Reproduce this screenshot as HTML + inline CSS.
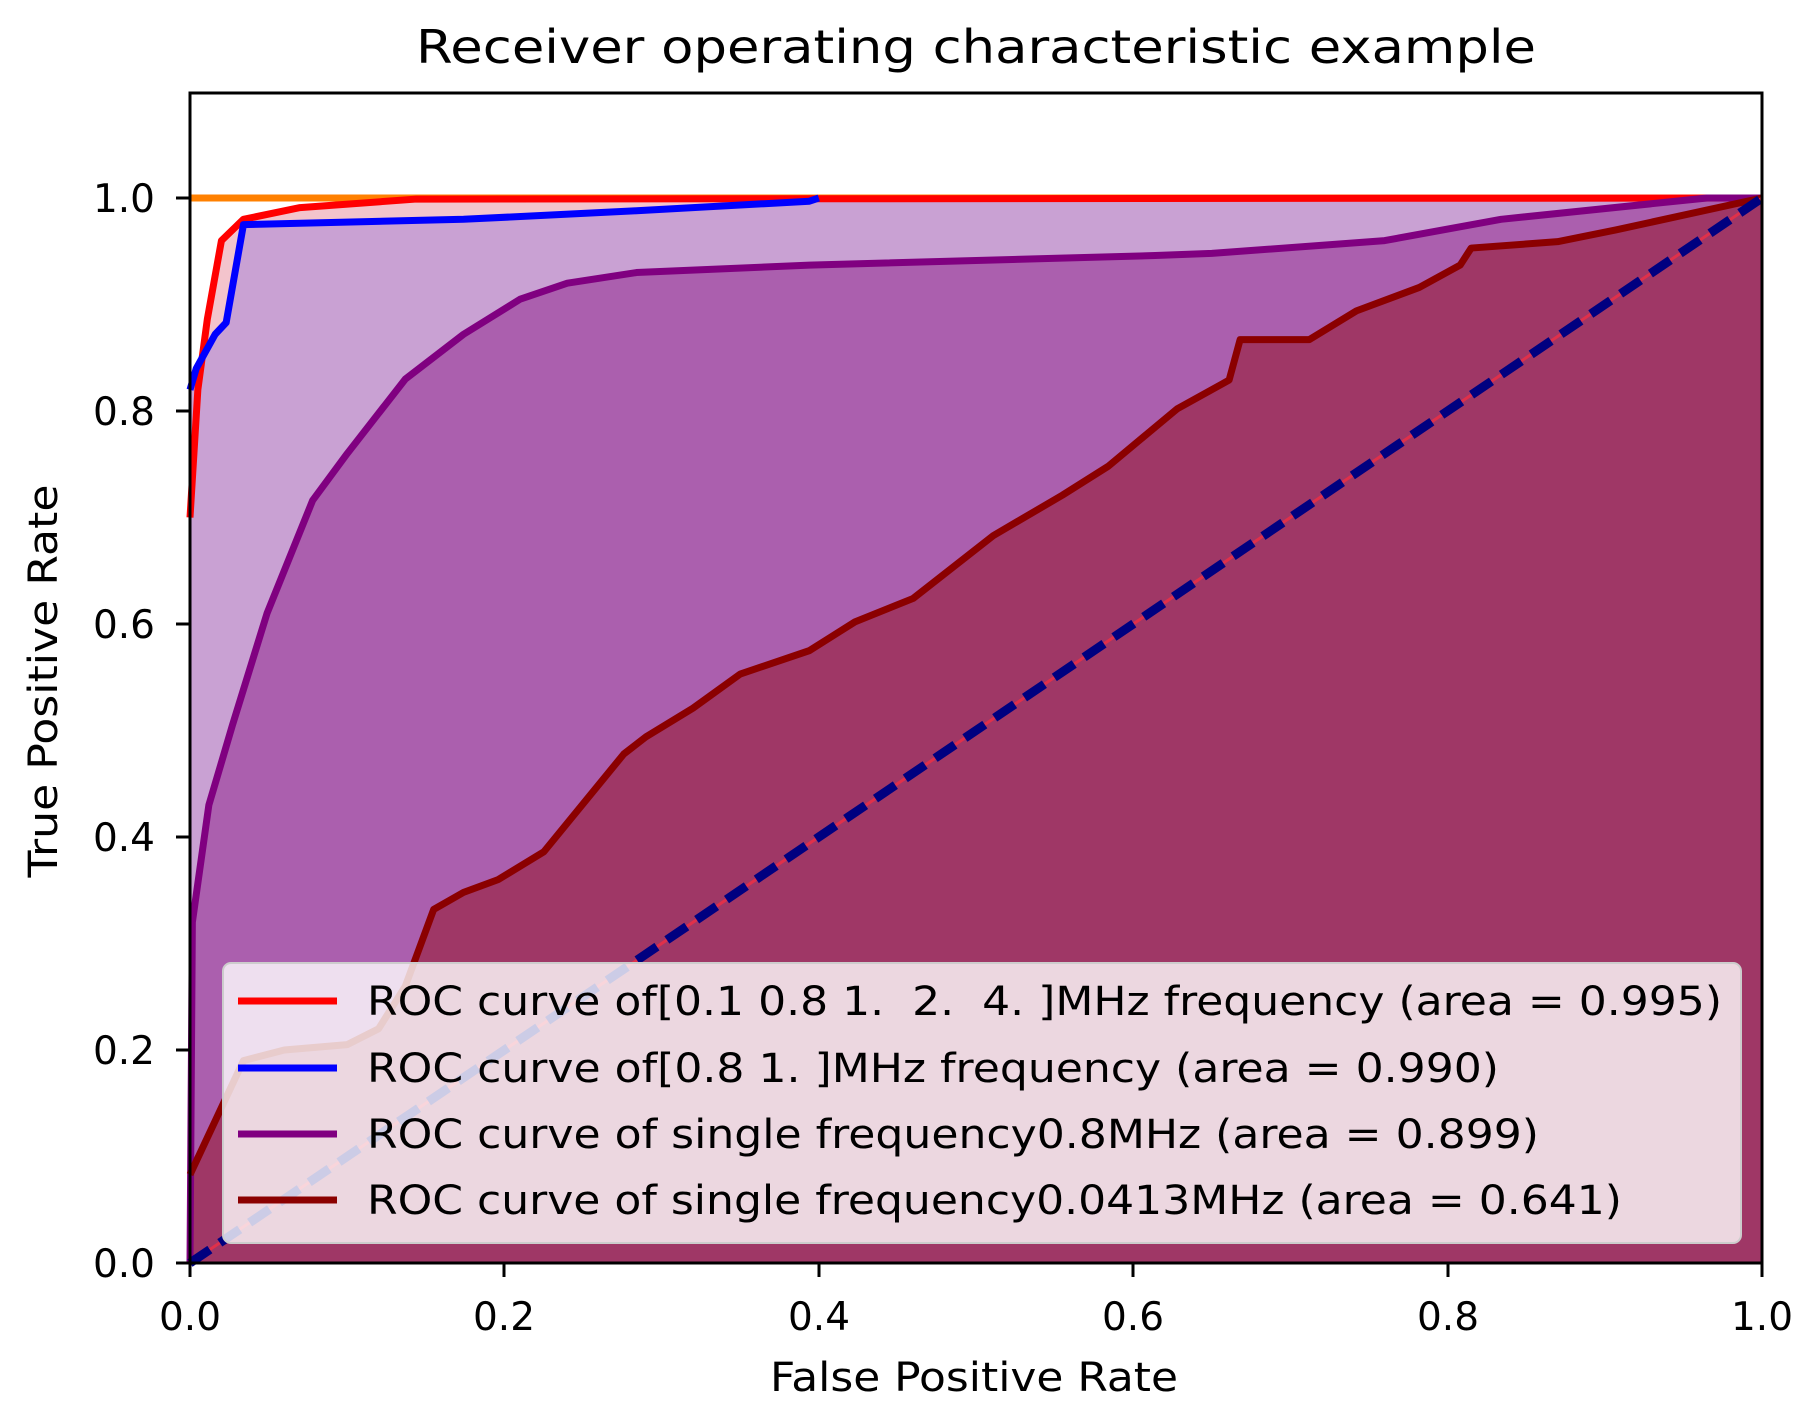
<!DOCTYPE html>
<html><head><meta charset="utf-8"><style>
html,body{margin:0;padding:0;background:#fff;}
svg{display:block;}
text{font-family:"DejaVu Sans","Liberation Sans",sans-serif;fill:#000;}
</style></head><body>
<svg width="1807" height="1410" viewBox="0 0 1807 1410" xmlns="http://www.w3.org/2000/svg">
<rect width="1807" height="1410" fill="#fff"/>
<g transform="translate(190,1263) scale(1572,-1065)">
  <polygon fill="#f3c4cc" points="0,0 0,0.7 0.005,0.82 0.011,0.886 0.02,0.96 0.034,0.98 0.07,0.991 0.144,0.999 1,1 1,0"/>
  <polygon fill="#c9a1d3" points="0,0 0,0.82 0.004,0.84 0.016,0.872 0.023,0.883 0.034,0.975 0.174,0.98 0.284,0.988 0.394,0.997 0.4,1 1,1 1,0"/>
  <polygon fill="#ab5fae" points="0,0 0.0015,0.32 0.012,0.43 0.027,0.505 0.049,0.61 0.078,0.716 0.1,0.76 0.137,0.83 0.174,0.872 0.21,0.905 0.24,0.92 0.284,0.93 0.394,0.937 0.614,0.946 0.65,0.948 0.76,0.96 0.834,0.98 0.965,1 1,1 1,0"/>
  <polygon fill="#9f3766" points="0,0 0,0.083 0.034,0.19 0.06,0.2 0.1,0.205 0.12,0.22 0.137,0.26 0.155,0.332 0.174,0.348 0.196,0.36 0.225,0.386 0.276,0.478 0.29,0.494 0.32,0.521 0.35,0.553 0.394,0.575 0.423,0.602 0.46,0.624 0.511,0.683 0.555,0.721 0.584,0.748 0.628,0.802 0.661,0.829 0.668,0.867 0.712,0.867 0.742,0.894 0.782,0.916 0.808,0.937 0.815,0.953 0.87,0.959 0.907,0.97 1,1 1,0"/>
  <g fill="none" stroke-linejoin="round">
  <polyline stroke="#ff8000" stroke-width="7" vector-effect="non-scaling-stroke" points="0,1 1,1"/>
  <polyline stroke="#ff0000" stroke-width="7" vector-effect="non-scaling-stroke" points="0,0.7 0.005,0.82 0.011,0.886 0.02,0.96 0.034,0.98 0.07,0.991 0.144,0.999 1,1"/>
  <polyline stroke="#0000ff" stroke-width="7" vector-effect="non-scaling-stroke" points="0,0.82 0.004,0.84 0.016,0.872 0.023,0.883 0.034,0.975 0.174,0.98 0.284,0.988 0.394,0.997 0.4,1"/>
  <polyline stroke="#800080" stroke-width="7" vector-effect="non-scaling-stroke" points="0,0 0.0015,0.32 0.012,0.43 0.027,0.505 0.049,0.61 0.078,0.716 0.1,0.76 0.137,0.83 0.174,0.872 0.21,0.905 0.24,0.92 0.284,0.93 0.394,0.937 0.614,0.946 0.65,0.948 0.76,0.96 0.834,0.98 0.965,1 1,1"/>
  <polyline stroke="#8b0000" stroke-width="7" vector-effect="non-scaling-stroke" points="0,0.083 0.034,0.19 0.06,0.2 0.1,0.205 0.12,0.22 0.137,0.26 0.155,0.332 0.174,0.348 0.196,0.36 0.225,0.386 0.276,0.478 0.29,0.494 0.32,0.521 0.35,0.553 0.394,0.575 0.423,0.602 0.46,0.624 0.511,0.683 0.555,0.721 0.584,0.748 0.628,0.802 0.661,0.829 0.668,0.867 0.712,0.867 0.742,0.894 0.782,0.916 0.808,0.937 0.815,0.953 0.87,0.959 0.907,0.97 1,1"/>
  <polyline stroke="#e0304a" stroke-width="3" vector-effect="non-scaling-stroke" points="0,0 1,1"/>
  <polyline stroke="#000080" stroke-width="9" stroke-dasharray="24,12" vector-effect="non-scaling-stroke" points="0,0 1,1"/>
  </g>
</g>
<rect x="223" y="963" width="1518" height="280" rx="8" fill="#fff" fill-opacity="0.8" stroke="#ccc" stroke-width="2"/>
<line x1="238" y1="1001" x2="337" y2="1001" stroke="#ff0000" stroke-width="7"/>
<line x1="238" y1="1068" x2="337" y2="1068" stroke="#0000ff" stroke-width="7"/>
<line x1="238" y1="1134" x2="337" y2="1134" stroke="#800080" stroke-width="7"/>
<line x1="238" y1="1200" x2="337" y2="1200" stroke="#8b0000" stroke-width="7"/>
<g font-size="40" fill="#222">
<text x="367" y="1015" textLength="1355" lengthAdjust="spacingAndGlyphs" xml:space="preserve">ROC curve of[0.1 0.8 1.  2.  4. ]MHz frequency (area = 0.995)</text>
<text x="367" y="1082" textLength="1132" lengthAdjust="spacingAndGlyphs" xml:space="preserve">ROC curve of[0.8 1. ]MHz frequency (area = 0.990)</text>
<text x="367" y="1148" textLength="1172" lengthAdjust="spacingAndGlyphs">ROC curve of single frequency0.8MHz (area = 0.899)</text>
<text x="367" y="1214" textLength="1255" lengthAdjust="spacingAndGlyphs">ROC curve of single frequency0.0413MHz (area = 0.641)</text>
</g>
<rect x="190" y="93" width="1572" height="1170" fill="none" stroke="#000" stroke-width="3"/>
<g stroke="#000" stroke-width="3">
<line x1="176" y1="1263" x2="190" y2="1263"/><line x1="176" y1="1050" x2="190" y2="1050"/><line x1="176" y1="837" x2="190" y2="837"/><line x1="176" y1="624" x2="190" y2="624"/><line x1="176" y1="411" x2="190" y2="411"/><line x1="176" y1="198" x2="190" y2="198"/>
<line x1="190" y1="1263" x2="190" y2="1277"/><line x1="504" y1="1263" x2="504" y2="1277"/><line x1="819" y1="1263" x2="819" y2="1277"/><line x1="1133" y1="1263" x2="1133" y2="1277"/><line x1="1448" y1="1263" x2="1448" y2="1277"/><line x1="1762" y1="1263" x2="1762" y2="1277"/>
</g>
<g font-size="39" text-anchor="end">
<text x="155" y="1277">0.0</text><text x="155" y="1064">0.2</text><text x="155" y="851">0.4</text><text x="155" y="638">0.6</text><text x="155" y="425">0.8</text><text x="155" y="212">1.0</text>
</g>
<g font-size="39" text-anchor="middle">
<text x="190" y="1330">0.0</text><text x="504" y="1330">0.2</text><text x="819" y="1330">0.4</text><text x="1133" y="1330">0.6</text><text x="1448" y="1330">0.8</text><text x="1762" y="1330">1.0</text>
</g>
<text x="974" y="1391" font-size="40" text-anchor="middle" textLength="408" lengthAdjust="spacingAndGlyphs">False Positive Rate</text>
<text transform="translate(57,681) rotate(-90)" font-size="40" text-anchor="middle" textLength="393" lengthAdjust="spacingAndGlyphs">True Positive Rate</text>
<text x="976" y="63" font-size="46" text-anchor="middle" textLength="1120" lengthAdjust="spacingAndGlyphs">Receiver operating characteristic example</text>
</svg>
</body></html>
